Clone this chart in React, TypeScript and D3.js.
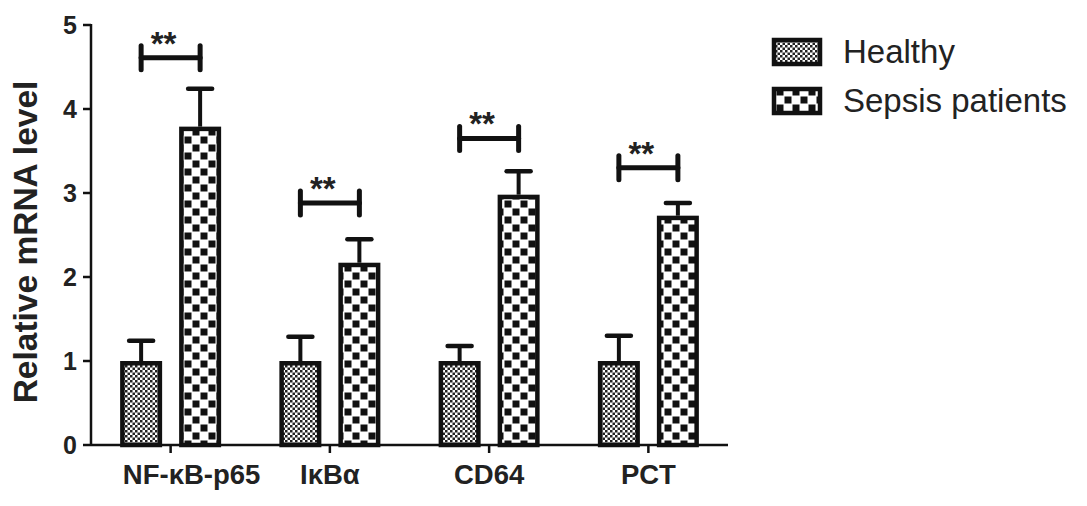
import React from "react";
import * as d3 from "d3";

const categories = ["NF-κB-p65", "IκBα", "CD64", "PCT"];
const seriesNames = ["Healthy", "Sepsis patients"];
const healthyMean = [1.0, 1.0, 1.0, 1.0];
const healthyErr = [0.24, 0.29, 0.18, 0.3];
const sepsisMean = [3.79, 2.17, 2.98, 2.73];
const sepsisErr = [0.45, 0.28, 0.28, 0.15];
const bracketLevel = [4.61, 2.88, 3.65, 3.3];
const sigLabels = ["**", "**", "**", "**"];
const yTicks = [0, 1, 2, 3, 4, 5];
const yLabel = "Relative mRNA level";

const W = 1087;
const H = 506;
const FONT = "'Liberation Sans', Arial, sans-serif";

export default function App() {
  const x0 = 91, x1 = 728;
  const yTop = 25, yBot = 445;
  const x = d3.scaleBand<string>().domain(categories).range([x0, x1]).padding(0);
  const y = d3.scaleLinear().domain([0, 5]).range([yBot, yTop]);
  const offset = 29.5;
  const sw = 4.5;
  const barW = 42 - sw;

  const series = [
    { name: seriesNames[0], mean: healthyMean, err: healthyErr, fill: "url(#patHealthy)", dx: -offset },
    { name: seriesNames[1], mean: sepsisMean, err: sepsisErr, fill: "url(#patSepsis)", dx: offset },
  ];

  const cx = (c: string) => (x(c) as number) + x.bandwidth() / 2;

  return (
    <svg width={W} height={H} style={{ position: "absolute", left: 0, top: 0, background: "#fff" }} fontFamily={FONT}>
      <defs>
        <pattern id="patHealthy" patternUnits="userSpaceOnUse" width={5} height={5}>
          <rect width={5} height={5} fill="#fff" />
          <rect x={0} y={0} width={2.5} height={2.5} fill="#222" />
          <rect x={2.5} y={2.5} width={2.5} height={2.5} fill="#222" />
        </pattern>
        <pattern id="patSepsis" patternUnits="userSpaceOnUse" width={16} height={16}>
          <rect width={16} height={16} fill="#fff" />
          <rect x={0.5} y={0.5} width={7} height={7} fill="#111" />
          <rect x={8.5} y={8.5} width={7} height={7} fill="#111" />
        </pattern>
      </defs>

      {/* bars */}
      {series.map((s) =>
        categories.map((c, i) => {
          const bx = cx(c) + s.dx;
          const top = y(s.mean[i]);
          const capY = y(s.mean[i] + s.err[i]);
          return (
            <g key={s.name + c}>
              <line x1={bx} x2={bx} y1={top} y2={capY} stroke="#111" strokeWidth={4} />
              <line x1={bx - 12} x2={bx + 12} y1={capY} y2={capY} stroke="#111" strokeWidth={4.5} strokeLinecap="round" />
              <rect x={bx - barW / 2} y={top + sw / 2} width={barW} height={yBot - top - sw / 2} fill={s.fill} stroke="#111" strokeWidth={sw} />
            </g>
          );
        })
      )}

      {/* significance brackets */}
      {categories.map((c, i) => {
        const by = y(bracketLevel[i]);
        const l = cx(c) - offset;
        const r = cx(c) + offset;
        return (
          <g key={"sig" + c} stroke="#111" strokeWidth={5} strokeLinecap="round">
            <line x1={l} x2={r} y1={by} y2={by} />
            <line x1={l} x2={l} y1={by - 12} y2={by + 12} />
            <line x1={r} x2={r} y1={by - 12} y2={by + 12} />
            <text x={(l + r) / 2 - 7} y={by - 3} textAnchor="middle" fontSize={33} fontWeight="bold" fill="#222" stroke="none">
              {sigLabels[i]}
            </text>
          </g>
        );
      })}

      {/* y axis */}
      <line x1={x0} x2={x0} y1={yTop - 1} y2={yBot + 1} stroke="#111" strokeWidth={2.5} />
      {yTicks.map((t) => (
        <g key={"yt" + t}>
          <line x1={x0 - 8} x2={x0} y1={y(t)} y2={y(t)} stroke="#111" strokeWidth={2.5} />
          <text x={77} y={y(t)} dy="0.36em" textAnchor="end" fontSize={25} fontWeight="bold" fill="#222">
            {t}
          </text>
        </g>
      ))}
      <text transform={`translate(37, ${(yTop + yBot) / 2 + 7}) rotate(-90)`} textAnchor="middle" fontSize={33.5} fontWeight="bold" fill="#222">
        {yLabel}
      </text>

      {/* x axis */}
      <line x1={x0} x2={x1} y1={yBot} y2={yBot} stroke="#111" strokeWidth={2.5} />
      {categories.map((c, i) => (
        <g key={"xt" + c}>
          <line x1={cx(c)} x2={cx(c)} y1={yBot} y2={yBot + 8} stroke="#111" strokeWidth={2.5} />
          <text x={cx(c) + (i === 0 ? 21 : 0)} y={484} textAnchor="middle" fontSize={27.5} fontWeight="bold" fill="#222">
            {c}
          </text>
        </g>
      ))}

      {/* legend */}
      {series.map((s, i) => (
        <g key={"lg" + s.name}>
          <rect x={774} y={40 + i * 49} width={46} height={24} fill={s.fill} stroke="#111" strokeWidth={4.5} />
          <text x={843} y={63 + i * 49} fontSize={33} fill="#222">
            {s.name}
          </text>
        </g>
      ))}
    </svg>
  );
}
